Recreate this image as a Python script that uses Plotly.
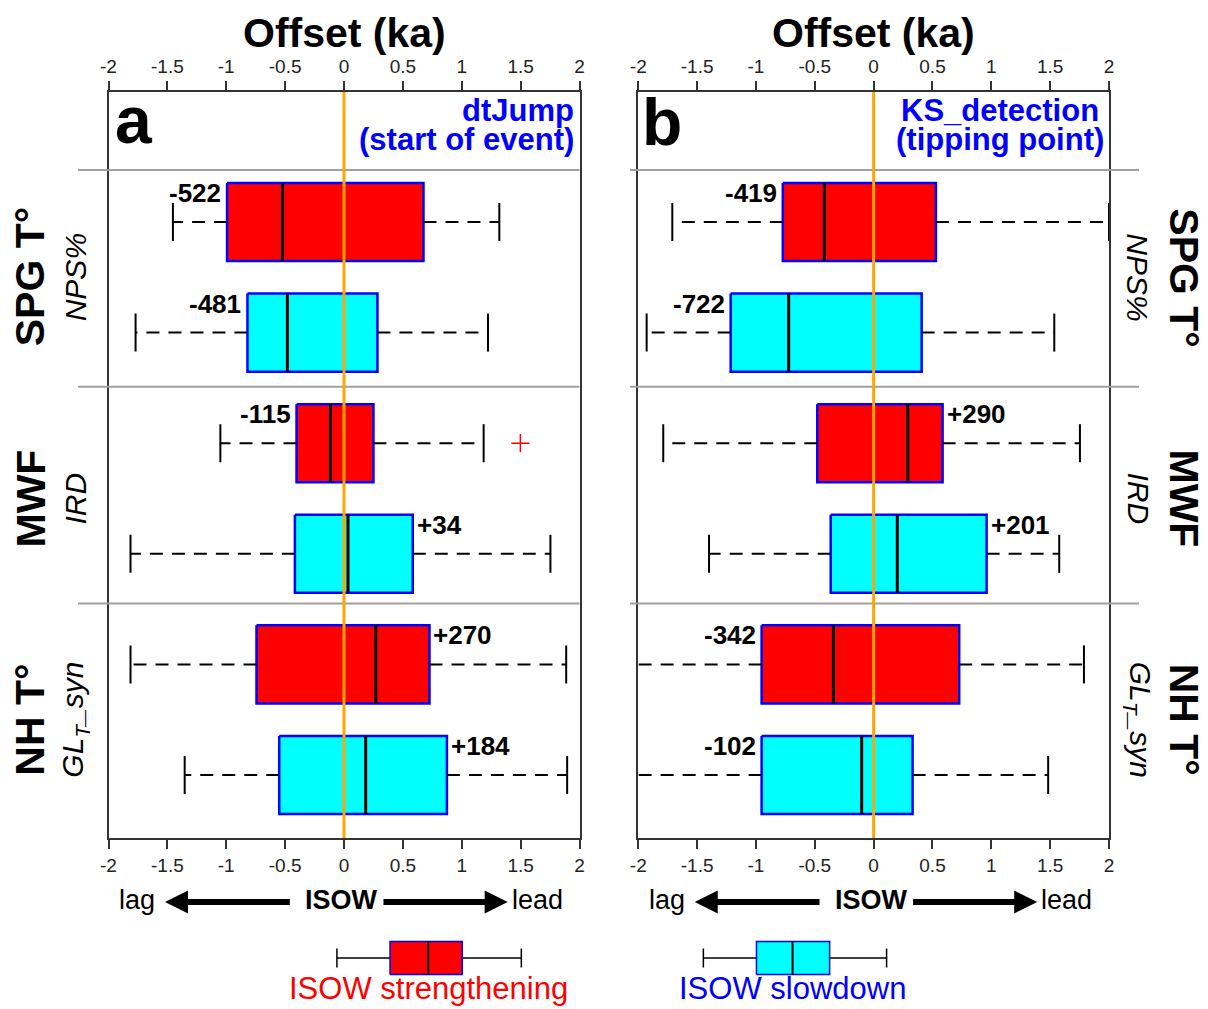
import plotly.graph_objects as go

# ---------------- data ----------------
groups = ["SPG T°", "MWF", "NH T°"]
proxies = ["NPS%", "IRD", "GL<sub>T</sub>_syn"]
series_names = ["ISOW strengthening", "ISOW slowdown"]
tick_vals = [-2, -1.5, -1, -0.5, 0, 0.5, 1, 1.5, 2]
tick_text = ["-2", "-1.5", "-1", "-0.5", "0", "0.5", "1", "1.5", "2"]

# panel a : dtJump (start of event) -- offsets in ka
a_str_lo = [-1.453, -1.050, -1.813]
a_str_q1 = [-0.993, -0.403, -0.743]
a_str_med = [-0.522, -0.115, 0.270]
a_str_q3 = [0.675, 0.250, 0.726]
a_str_hi = [1.319, 1.186, 1.887]

a_slo_lo = [-1.770, -1.813, -1.353]
a_slo_q1 = [-0.820, -0.417, -0.550]
a_slo_med = [-0.481, 0.034, 0.184]
a_slo_q3 = [0.284, 0.584, 0.874]
a_slo_hi = [1.223, 1.753, 1.895]

a_outlier_x = [1.498]
a_outlier_group = [1]          # MWF, strengthening

# panel b : KS_detection (tipping point)
b_str_lo = [-1.711, -1.788, -2.15]
b_str_q1 = [-0.772, -0.479, -0.952]
b_str_med = [-0.419, 0.290, -0.342]
b_str_q3 = [0.529, 0.586, 0.727]
b_str_hi = [2.0, 1.753, 1.787]

b_slo_lo = [-1.929, -1.399, -2.15]
b_slo_q1 = [-1.215, -0.365, -0.952]
b_slo_med = [-0.722, 0.201, -0.102]
b_slo_q3 = [0.408, 0.960, 0.331]
b_slo_hi = [1.535, 1.577, 1.483]

# legend sample boxes [lo, q1, med, q3, hi]
legend_str = [-0.06, 0.391, 0.715, 1.004, 1.506]
legend_slo = [-1.447, -0.996, -0.689, -0.374, 0.11]

# lag / lead annotation under each axis
isow_words = ["lag", "<b>ISOW</b>", "lead"]
isow_word_x = [-1.76, -0.02, 1.643]
arrow_tail = [-0.46, 0.335]
arrow_tip = [-1.52, 1.39]

# ---------------- style / layout ----------------
OFF = 8                      # page body margin of the html page
W, H = 1208 - OFF, 1009 - OFF
FONT = "Liberation Sans, Arial, Helvetica, sans-serif"
RED, CYAN, BLUE = "#ff0000", "#00ffff", "#0000ff"
FRAME = "#333333"
fills = [RED, CYAN]


def px(p):
    """page x pixel -> paper"""
    return (p - OFF) / W


def py(p):
    """page y pixel -> paper"""
    return (H - (p - OFF)) / H


dom_a = [px(108.5), px(579.5)]
dom_b = [px(638.3), px(1109.0)]
plot_top, plot_bot = 92, 838
row_px, row0_px = 110.6, 222
y_top = (plot_top - row0_px) / row_px
y_bot = (plot_bot - row0_px) / row_px
ydom = [py(plot_bot), py(plot_top)]
separators = [-0.47, 1.49, 3.45]
half_box, half_cap = 0.353, 0.172

bottom_h = 129          # bottom strip (y3 axis, px above page bottom)
arrow_y, word_y, legend_y, legend_text_y = 107, 109, 51, 21

fig = go.Figure()

panels = [
    dict(xa="x", ya="y",
         series=[(a_str_lo, a_str_q1, a_str_med, a_str_q3, a_str_hi),
                 (a_slo_lo, a_slo_q1, a_slo_med, a_slo_q3, a_slo_hi)],
         outx=a_outlier_x, outg=a_outlier_group),
    dict(xa="x2", ya="y2",
         series=[(b_str_lo, b_str_q1, b_str_med, b_str_q3, b_str_hi),
                 (b_slo_lo, b_slo_q1, b_slo_med, b_slo_q3, b_slo_hi)],
         outx=[], outg=[]),
]

annotations = []

for p in panels:
    med_x, med_y, wh_x, wh_y, cap_x, cap_y = [], [], [], [], [], []
    for s_idx, (lo, q1, med, q3, hi) in enumerate(p["series"]):
        bx, by = [], []
        for g in range(len(groups)):
            r = 2 * g + s_idx
            bx += [q1[g], q3[g], q3[g], q1[g], q1[g], None]
            by += [r - half_box, r - half_box, r + half_box, r + half_box, r - half_box, None]
            med_x += [med[g], med[g], None]
            med_y += [r - half_box, r + half_box, None]
            wh_x += [q1[g], lo[g], None, q3[g], hi[g], None]
            wh_y += [r, r, None, r, r, None]
            cap_x += [lo[g], lo[g], None, hi[g], hi[g], None]
            cap_y += [r - half_cap, r + half_cap, None, r - half_cap, r + half_cap, None]
            m = med[g]
            label = ("+" if m > 0 else "-") + str(abs(round(m * 1000)))
            if m < 0:
                ax_x, anchor, xs = q1[g], "right", -5
            else:
                ax_x, anchor, xs = q3[g], "left", 3
            annotations.append(dict(
                x=ax_x, y=r, xref=p["xa"], yref=p["ya"], text="<b>" + label + "</b>",
                showarrow=False, xanchor=anchor, yanchor="middle", xshift=xs, yshift=29,
                borderpad=0, font=dict(size=26, color="black", family=FONT)))
        fig.add_trace(go.Scatter(
            x=bx, y=by, xaxis=p["xa"], yaxis=p["ya"], mode="lines", fill="toself",
            fillcolor=fills[s_idx], line=dict(color=BLUE, width=2.5),
            name=series_names[s_idx], showlegend=False, hoverinfo="skip"))
    fig.add_trace(go.Scatter(
        x=wh_x, y=wh_y, xaxis=p["xa"], yaxis=p["ya"], mode="lines",
        line=dict(color="black", width=2, dash="13px,9px"), showlegend=False, hoverinfo="skip"))
    fig.add_trace(go.Scatter(
        x=cap_x, y=cap_y, xaxis=p["xa"], yaxis=p["ya"], mode="lines",
        line=dict(color="black", width=2), showlegend=False, hoverinfo="skip"))
    fig.add_trace(go.Scatter(
        x=med_x, y=med_y, xaxis=p["xa"], yaxis=p["ya"], mode="lines",
        line=dict(color="black", width=3), showlegend=False, hoverinfo="skip"))
    if p["outx"]:
        fig.add_trace(go.Scatter(
            x=p["outx"], y=[2 * g for g in p["outg"]], xaxis=p["xa"], yaxis=p["ya"],
            mode="markers", marker=dict(symbol="cross-thin", size=13,
                                        line=dict(color=RED, width=1.5)),
            showlegend=False, hoverinfo="skip"))

# invisible carriers so that the top (overlaying) axes get drawn
for xa, ya in (("x3", "y"), ("x4", "y2")):
    fig.add_trace(go.Scatter(x=[0], y=[0], xaxis=xa, yaxis=ya, mode="markers",
                             marker=dict(opacity=0, size=1), showlegend=False, hoverinfo="skip"))

# ---- bottom strip: lag / ISOW / lead arrows and legend samples ----
for xa, lg, col, name in [("x", legend_str, RED, series_names[0]),
                          ("x2", legend_slo, CYAN, series_names[1])]:
    for tail, tip in zip(arrow_tail, arrow_tip):
        back = 0.09 if tip < tail else -0.09
        fig.add_trace(go.Scatter(
            x=[tail, tip + back], y=[arrow_y, arrow_y], xaxis=xa, yaxis="y3", mode="lines",
            line=dict(color="black", width=6), showlegend=False, hoverinfo="skip"))
        fig.add_trace(go.Scatter(
            x=[tip], y=[arrow_y], xaxis=xa, yaxis="y3", mode="markers",
            marker=dict(symbol="arrow-left" if tip < tail else "arrow-right", size=23,
                        color="black", line=dict(width=0)),
            showlegend=False, hoverinfo="skip"))
    for word, wx in zip(isow_words, isow_word_x):
        annotations.append(dict(x=wx, y=word_y, xref=xa, yref="y3", text=word,
                                xanchor="center", yanchor="middle",
                                showarrow=False, font=dict(size=27, color="black", family=FONT)))
    lo, q1, med, q3, hi = lg
    bh, ch = 16.5, 9.5
    fig.add_trace(go.Scatter(
        x=[lo, q1, None, q3, hi, None, lo, lo, None, hi, hi],
        y=[legend_y, legend_y, None, legend_y, legend_y, None,
           legend_y - ch, legend_y + ch, None, legend_y - ch, legend_y + ch],
        xaxis=xa, yaxis="y3", mode="lines", line=dict(color="black", width=1.5),
        showlegend=False, hoverinfo="skip"))
    fig.add_trace(go.Scatter(
        x=[q1, q3, q3, q1, q1], y=[legend_y - bh, legend_y - bh, legend_y + bh, legend_y + bh, legend_y - bh],
        xaxis=xa, yaxis="y3", mode="lines", fill="toself", fillcolor=col,
        line=dict(color=BLUE, width=1.5), showlegend=False, hoverinfo="skip"))
    fig.add_trace(go.Scatter(
        x=[med, med], y=[legend_y - bh, legend_y + bh], xaxis=xa, yaxis="y3", mode="lines",
        line=dict(color="black", width=2), showlegend=False, hoverinfo="skip"))
    annotations.append(dict(x=med, y=legend_text_y, xref=xa, yref="y3", text=name, showarrow=False,
                            xanchor="center", yanchor="middle", borderpad=0,
                            font=dict(size=31, color=RED if col == RED else BLUE, family=FONT)))


def pann(x, y, text, size, color="black", xanchor="center", yanchor="middle", **kw):
    return dict(x=px(x), y=py(y), xref="paper", yref="paper", text=text, showarrow=False,
                xanchor=xanchor, yanchor=yanchor, borderpad=0,
                font=dict(size=size, color=color, family=FONT), **kw)


# ---- titles, panel letters, method labels ----
annotations += [
    pann(344, 33, "<b>Offset (ka)</b>", 41),
    pann(873.7, 33, "<b>Offset (ka)</b>", 41),
    pann(114, 120, "<b>a</b>", 66, xanchor="left"),
    pann(640.5, 122, "<b>b</b>", 66, xanchor="left"),
    pann(575, 111, "<b>dtJump</b>", 31, BLUE, xanchor="right"),
    pann(575, 140, "<b>(start of event)</b>", 31, BLUE, xanchor="right"),
    pann(1100, 111, "<b>KS_detection</b>", 31, BLUE, xanchor="right"),
    pann(1105, 140, "<b>(tipping point)</b>", 31, BLUE, xanchor="right"),
]

# ---- row labels ----
for g, (grp, prx) in enumerate(zip(groups, proxies)):
    yc = 2 * g + 0.5
    for xpix, yref, txt, size, ang in [(30, "y", "<b>" + grp + "</b>", 41, -90),
                                        (75, "y", "<i>" + prx + "</i>", 30, -90),
                                        (1184, "y2", "<b>" + grp + "</b>", 41, 90),
                                        (1138, "y2", "<i>" + prx + "</i>", 30, 90)]:
        annotations.append(dict(x=px(xpix), y=yc, xref="paper", yref=yref, text=txt,
                                textangle=ang, showarrow=False, xanchor="center",
                                yanchor="middle", borderpad=0,
                                font=dict(size=size, color="black", family=FONT)))

# ---- shapes: separators and zero line ----
shapes = []
for yref, x0, x1 in [("y", px(78), dom_a[1]), ("y2", px(630), px(1139))]:
    for s in separators:
        shapes.append(dict(type="line", xref="paper", yref=yref, x0=x0, x1=x1, y0=s, y1=s,
                           line=dict(color="#a0a0a0", width=2), layer="above"))
for xref in ("x", "x2"):
    shapes.append(dict(type="line", xref=xref, yref=("y" if xref == "x" else "y2") + " domain",
                       x0=0, x1=0, y0=0, y1=1, line=dict(color="#ffa500", width=3), layer="above"))

xcommon = dict(range=[-2, 2], tickmode="array", tickvals=tick_vals, ticktext=tick_text,
               ticks="outside", ticklen=9, tickwidth=1.5, tickcolor=FRAME,
               tickfont=dict(size=19, color="#222222", family=FONT),
               showline=True, linecolor=FRAME, linewidth=2, showgrid=False, zeroline=False,
               automargin=False)
ycommon = dict(domain=ydom, range=[y_bot, y_top], showline=True, linecolor=FRAME, linewidth=2,
               mirror=True, ticks="", showticklabels=False, showgrid=False, zeroline=False,
               automargin=False)

fig.update_layout(
    width=W, height=H, margin=dict(l=0, r=0, t=0, b=0, autoexpand=False),
    paper_bgcolor="white", plot_bgcolor="white", showlegend=False,
    font=dict(family=FONT),
    xaxis=dict(domain=dom_a, anchor="y", side="bottom", mirror=True, **xcommon),
    xaxis2=dict(domain=dom_b, anchor="y2", side="bottom", mirror=True, **xcommon),
    xaxis3=dict(overlaying="x", anchor="y", side="top", **xcommon),
    xaxis4=dict(overlaying="x2", anchor="y2", side="top", **xcommon),
    yaxis=dict(anchor="x", **ycommon),
    yaxis2=dict(anchor="x2", **ycommon),
    yaxis3=dict(domain=[0, bottom_h / H], range=[0, bottom_h], visible=False, anchor="x"),
    annotations=annotations, shapes=shapes,
)

fig.write_html("out.html")
